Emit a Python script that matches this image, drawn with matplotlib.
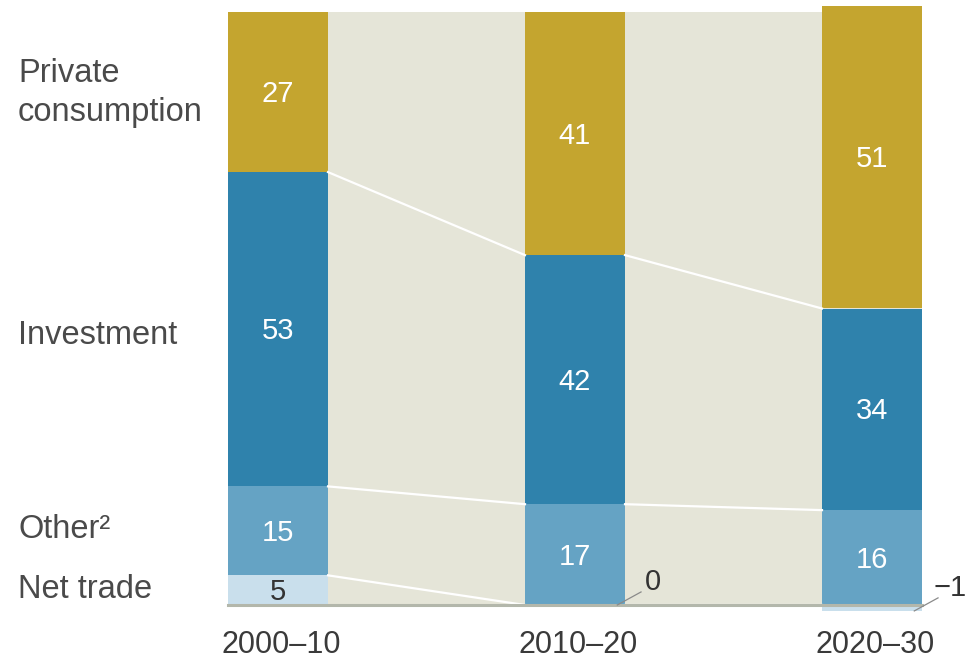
import matplotlib
matplotlib.use("Agg")
import matplotlib.pyplot as plt
from matplotlib.patches import Rectangle

periods = ["2000–10", "2010–20", "2020–30"]
series = ["Net trade", "Other", "Investment", "Private consumption"]
net_trade = [5, 0, -1]
other = [15, 17, 16]
investment = [53, 42, 34]
private = [27, 41, 51]

colors = {
    "Net trade": "#C9DFEC",
    "Other": "#65A3C4",
    "Investment": "#2F82AC",
    "Private consumption": "#C4A52F",
}

plt.rcParams['font.family'] = ['Liberation Sans', 'DejaVu Sans']

PXX = 297.0   # pixels per x unit
PXY = 5.93    # pixels per y unit
fig = plt.figure(figsize=(9.67, 6.64), dpi=100)
ax = fig.add_axes([0, 0, 1, 1])
ax.set_xlim(-278 / PXX, (967 - 278) / PXX)
ax.set_ylim(-59 / PXY, (664 - 59) / PXY)
ax.axis("off")

def py(p):
    """pixel row from top -> data y"""
    return (664 - 59 - p) / PXY

def px(p):
    return (p - 278) / PXX

x = [0, 1, 2]
w = 100 / PXX

# beige background band
ax.add_patch(Rectangle((x[0] - w / 2, 0), x[2] - x[0] + w, 100,
                       facecolor="#E5E5D8", edgecolor="none", zorder=0))

values = {"Net trade": net_trade, "Other": other,
          "Investment": investment, "Private consumption": private}

tops = {}
for i in range(3):
    pos_base = 0.0
    for s in series:
        v = values[s][i]
        if v >= 0:
            b = pos_base
            pos_base += v
            ax.bar(x[i], v, bottom=b, width=w, color=colors[s],
                   edgecolor="none", zorder=2)
            tops[(s, i)] = b + v
        else:
            ax.bar(x[i], -v, bottom=v, width=w, color=colors[s],
                   edgecolor="none", zorder=2)
            tops[(s, i)] = 0
        if v > 0:
            tc = "#333333" if s == "Net trade" else "white"
            ax.text(x[i], b + v / 2 - 0.35, str(v), ha="center", va="center",
                    fontsize=21, color=tc, zorder=4)

# connector lines between segment boundaries
for s in ["Net trade", "Other", "Investment"]:
    for i in range(2):
        y0 = tops[(s, i)]
        y1 = tops[(s, i + 1)]
        ax.plot([x[i] + w / 2, x[i + 1] - w / 2], [y0, y1],
                color="white", lw=1.6, zorder=3)

# baseline
ax.plot([x[0] - w / 2, x[2] + w / 2], [0, 0], color="#B3B7AB", lw=2.2, zorder=3)

# outside labels for small net trade values (with short leader lines)
text_offsets = {1: 0.092, 2: 0.064}
for i in [1, 2]:
    v = net_trade[i]
    yb = min(v, 0)
    xs = x[i] + w / 2 - 0.026
    ax.plot([xs, xs + 0.08], [yb, yb + 2.2], color="#8A8A8A", lw=0.9, zorder=4)
    lab = "0" if v == 0 else "−" + str(abs(v))
    ax.text(xs + text_offsets[i], yb + 3.9, lab, ha="left", va="center",
            fontsize=21, color="#333333", zorder=4)

# x tick labels
for i, p in enumerate(periods):
    ax.text(x[i] + 0.01, py(645), p, ha="center", va="center", fontsize=22,
            color="#3A3A3A")

# left series labels
lab_x = px(18)
lab_kw = dict(ha="left", va="center", fontsize=23.5, color="#4A4A4A")
ax.text(lab_x, py(93), "Private\nconsumption", linespacing=1.32, **lab_kw)
ax.text(lab_x, py(335), "Investment", **lab_kw)
ax.text(lab_x, py(530), "Other²", **lab_kw)
ax.text(lab_x, py(590), "Net trade", **lab_kw)

fig.savefig("out.png", dpi=100)
